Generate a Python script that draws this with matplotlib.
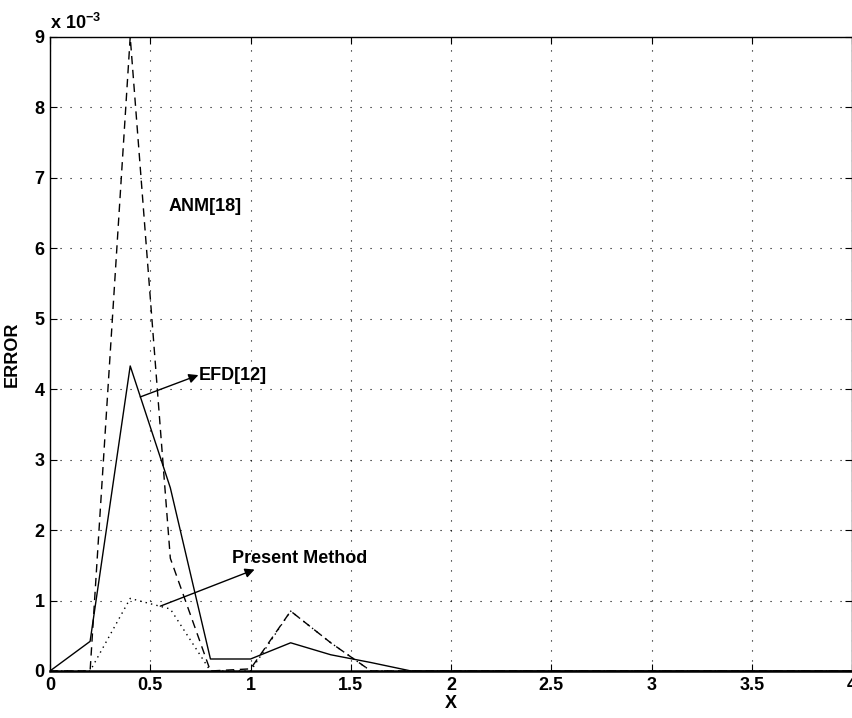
import numpy as np
import matplotlib
matplotlib.use('Agg')
import matplotlib.pyplot as plt
from matplotlib.ticker import FuncFormatter

# error values, in units of 1e-3
x = [0, 0.2, 0.4, 0.6, 0.8, 1.0, 1.2, 1.4, 1.6, 1.8, 2.0, 2.2, 2.4, 2.6, 2.8, 3.0,
     3.2, 3.4, 3.6, 3.8, 4.0]
efd = [0, 0.42, 4.33, 2.6, 0.17, 0.17, 0.4, 0.23, 0.12, 0.0, 0, 0, 0, 0, 0, 0,
       0, 0, 0, 0, 0]
anm = [0, 0, 9.0, 1.6, 0.0, 0.03, 0.85, 0.4, 0.0, 0, 0, 0, 0, 0, 0, 0,
       0, 0, 0, 0, 0]
present = [0, 0, 1.03, 0.88, 0.0, 0.0, 0.85, 0.4, 0.0, 0, 0, 0, 0, 0, 0, 0,
           0, 0, 0, 0, 0]

plt.rcParams['font.family'] = ['Liberation Sans', 'DejaVu Sans']
plt.rcParams['font.weight'] = 'bold'
plt.rcParams['mathtext.fontset'] = 'custom'
plt.rcParams['mathtext.rm'] = 'Liberation Sans:bold'
plt.rcParams['mathtext.default'] = 'rm'

fs = 13

fig = plt.figure(figsize=(8.53, 7.18), dpi=100)
ax = fig.add_axes([0.0586, 0.0655, 0.9405, 0.883])

scale = 1e-3
ax.plot(x, np.array(efd) * scale, color='black', lw=1.0, ls='-')
ax.plot(x, np.array(anm) * scale, color='black', lw=1.0, ls=(0, (6, 4)))
ax.plot(x, np.array(present) * scale, color='black', lw=1.0, ls=(0, (1, 3)))

ax.set_xlim(0, 4)
ax.set_ylim(0, 9e-3)
ax.set_xticks(np.arange(0, 4.01, 0.5))
ax.set_xticklabels(['0', '0.5', '1', '1.5', '2', '2.5', '3', '3.5', '4'])
ax.set_yticks(np.arange(0, 9.01, 1) * scale)
ax.yaxis.set_major_formatter(FuncFormatter(lambda v, p: '%d' % round(v / scale)))

ax.grid(True, color='black', ls=(0, (1, 8)), lw=0.8)
ax.tick_params(direction='in', length=5, width=0.8, labelsize=fs, pad=4,
               top=True, right=True)
for lab in ax.get_xticklabels() + ax.get_yticklabels():
    lab.set_fontweight('bold')
for s in ax.spines.values():
    s.set_linewidth(1.0)
ax.spines['bottom'].set_linewidth(1.8)

ax.set_xlabel('X', fontsize=fs, fontweight='bold', labelpad=1)
ax.set_ylabel('ERROR', fontsize=fs, fontweight='bold', labelpad=10)
ax.text(0.0, 1.006, 'x 10$^{-3}$', transform=ax.transAxes, fontsize=fs,
        fontweight='bold', ha='left', va='bottom')

ax.text(0.59, 6.6e-3, 'ANM[18]', fontsize=fs, fontweight='bold', va='center')
ax.text(0.74, 4.2e-3, 'EFD[12]', fontsize=fs, fontweight='bold', va='center')
ax.annotate('', xy=(0.74, 4.2e-3), xytext=(0.45, 3.89e-3),
            arrowprops=dict(arrowstyle='-|>', color='black', lw=1.0,
                            mutation_scale=14, shrinkA=0, shrinkB=0))
ax.text(0.91, 1.6e-3, 'Present Method', fontsize=fs, fontweight='bold', va='center')
ax.annotate('', xy=(1.02, 1.44e-3), xytext=(0.55, 0.92e-3),
            arrowprops=dict(arrowstyle='-|>', color='black', lw=1.0,
                            mutation_scale=14, shrinkA=0, shrinkB=0))

fig.savefig('out.png', dpi=100)
